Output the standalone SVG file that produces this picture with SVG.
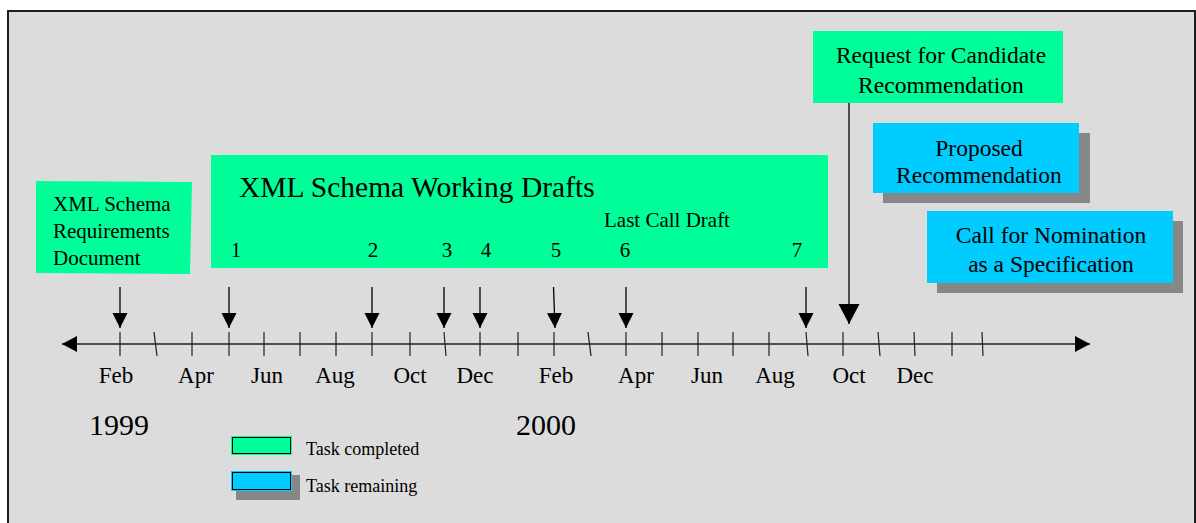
<svg xmlns="http://www.w3.org/2000/svg" width="1196" height="523" viewBox="0 0 1196 523">
<style>
  .t { font-family: "Liberation Serif", "Times New Roman", serif; fill: #000; }
  .m { font-size: 23px; text-anchor: middle; }
  .yr { font-size: 30px; text-anchor: middle; }
  .num { font-size: 21px; text-anchor: middle; }
  .box-g { fill: #00ff99; }
  .box-c { fill: #00ccff; }
  .shadow { fill: #878787; }
  .tick { stroke: #222; stroke-width: 1.2; }
  .arr { stroke: #000; stroke-width: 1.3; fill: none; marker-end: url(#head); }
</style>
<defs>
  <marker id="head" markerUnits="userSpaceOnUse" markerWidth="16" markerHeight="16" refX="15" refY="7.5" orient="auto">
    <path d="M0,0 L15,7.5 L0,15 Z" fill="#000"/>
  </marker>
  <marker id="bighead" markerUnits="userSpaceOnUse" markerWidth="22" markerHeight="22" refX="20" refY="10.5" orient="auto">
    <path d="M0,0 L20,10.5 L0,21 Z" fill="#000"/>
  </marker>
  <marker id="axhead" markerUnits="userSpaceOnUse" markerWidth="17" markerHeight="17" refX="15" refY="8" orient="auto-start-reverse">
    <path d="M0,0 L15,8 L0,16 Z" fill="#000"/>
  </marker>
</defs>
<rect x="0" y="0" width="1196" height="523" fill="#ffffff"/>
<rect x="8" y="11" width="1187" height="600" fill="#dcdcdc" stroke="#1e1e1e" stroke-width="2"/>

<g id="timeline">
  <line x1="62" y1="344" x2="1090" y2="344" stroke="#222" stroke-width="1.5" marker-start="url(#axhead)" marker-end="url(#axhead)"/>
  <g class="tick">
    <line x1="120" y1="332" x2="120" y2="356"/>
    <line x1="154" y1="332" x2="157" y2="356"/>
    <line x1="192" y1="332" x2="192" y2="356"/>
    <line x1="229" y1="332" x2="229" y2="356"/>
    <line x1="264" y1="332" x2="264" y2="356"/>
    <line x1="300" y1="332" x2="300" y2="356"/>
    <line x1="336" y1="332" x2="336" y2="356"/>
    <line x1="372" y1="332" x2="372" y2="356"/>
    <line x1="410" y1="332" x2="410" y2="356"/>
    <line x1="444" y1="332" x2="446" y2="356"/>
    <line x1="480" y1="332" x2="480" y2="356"/>
    <line x1="518" y1="332" x2="518" y2="356"/>
    <line x1="554" y1="332" x2="554" y2="356"/>
    <line x1="588" y1="332" x2="591" y2="356"/>
    <line x1="626" y1="332" x2="626" y2="356"/>
    <line x1="662" y1="332" x2="662" y2="356"/>
    <line x1="698" y1="332" x2="698" y2="356"/>
    <line x1="733" y1="332" x2="733" y2="356"/>
    <line x1="769" y1="332" x2="769" y2="356"/>
    <line x1="806" y1="332" x2="808" y2="356"/>
    <line x1="843" y1="332" x2="843" y2="356"/>
    <line x1="878" y1="332" x2="880" y2="356"/>
    <line x1="914" y1="332" x2="915" y2="356"/>
    <line x1="952" y1="332" x2="952" y2="356"/>
    <line x1="982" y1="332" x2="983" y2="356"/>
  </g>
  <g class="t m">
    <text x="116" y="383">Feb</text>
    <text x="196" y="383">Apr</text>
    <text x="267" y="383">Jun</text>
    <text x="335" y="383">Aug</text>
    <text x="410" y="383">Oct</text>
    <text x="475" y="383">Dec</text>
    <text x="556" y="383">Feb</text>
    <text x="636" y="383">Apr</text>
    <text x="707" y="383">Jun</text>
    <text x="775" y="383">Aug</text>
    <text x="849" y="383">Oct</text>
    <text x="915" y="383">Dec</text>
  </g>
  <g class="t yr">
    <text x="119" y="435">1999</text>
    <text x="546" y="435">2000</text>
  </g>
</g>

<g id="connectors">
  <line class="arr" x1="120" y1="287" x2="120" y2="328"/>
  <line class="arr" x1="229" y1="287" x2="229" y2="328"/>
  <line class="arr" x1="372" y1="287" x2="372" y2="328"/>
  <line class="arr" x1="444" y1="287" x2="444" y2="328"/>
  <line class="arr" x1="480" y1="287" x2="480" y2="328"/>
  <line class="arr" x1="553.5" y1="287" x2="555" y2="328"/>
  <line class="arr" x1="626" y1="287" x2="626" y2="328"/>
  <line class="arr" x1="806" y1="287" x2="806" y2="328"/>
  <line x1="849" y1="101" x2="849" y2="324" stroke="#000" stroke-width="1.3" marker-end="url(#bighead)"/>
</g>

<g id="requirements">
  <polygon class="box-g" points="36,181 192,182 190,274 36,273"/>
  <text class="t" x="53" y="211" font-size="21">XML Schema</text>
  <text class="t" x="53" y="238" font-size="21">Requirements</text>
  <text class="t" x="53" y="265" font-size="21">Document</text>
</g>

<g id="working-drafts">
  <rect class="box-g" x="211" y="155" width="617" height="113"/>
  <text class="t" x="239" y="197" font-size="29.5">XML Schema Working Drafts</text>
  <text class="t" x="604" y="227" font-size="21">Last Call Draft</text>
  <g class="t num">
    <text x="236" y="257">1</text>
    <text x="373" y="257">2</text>
    <text x="447" y="257">3</text>
    <text x="486" y="257">4</text>
    <text x="556" y="257">5</text>
    <text x="625" y="257">6</text>
    <text x="797" y="257">7</text>
  </g>
</g>

<g id="request-cr">
  <rect class="box-g" x="813" y="31" width="250" height="72"/>
  <text class="t" x="941" y="63" font-size="23.5" text-anchor="middle">Request for Candidate</text>
  <text class="t" x="941" y="93" font-size="23.5" text-anchor="middle">Recommendation</text>
</g>

<g id="proposed-rec">
  <rect class="shadow" x="883" y="133" width="207" height="70"/>
  <rect class="box-c" x="873" y="123" width="206" height="70"/>
  <text class="t" x="979" y="156" font-size="23.5" text-anchor="middle">Proposed</text>
  <text class="t" x="979" y="183" font-size="23.5" text-anchor="middle">Recommendation</text>
</g>

<g id="call-nomination">
  <rect class="shadow" x="937" y="221" width="246" height="72"/>
  <rect class="box-c" x="927" y="211" width="246" height="72"/>
  <text class="t" x="1051" y="243" font-size="23.5" text-anchor="middle">Call for Nomination</text>
  <text class="t" x="1051" y="272" font-size="23.5" text-anchor="middle">as a Specification</text>
</g>

<g id="legend">
  <rect x="231" y="436" width="61" height="19" fill="#00ff99"/>
  <rect x="232.5" y="437.5" width="58" height="16" fill="none" stroke="#000" stroke-width="1"/>
  <text class="t" x="306" y="455" font-size="18">Task completed</text>
  <rect class="shadow" x="236" y="475" width="64" height="25"/>
  <rect x="231" y="471" width="61" height="20" fill="#00ccff"/>
  <rect x="232.5" y="472.5" width="58" height="17" fill="none" stroke="#000" stroke-width="1"/>
  <text class="t" x="306" y="492" font-size="18">Task remaining</text>
</g>
</svg>
